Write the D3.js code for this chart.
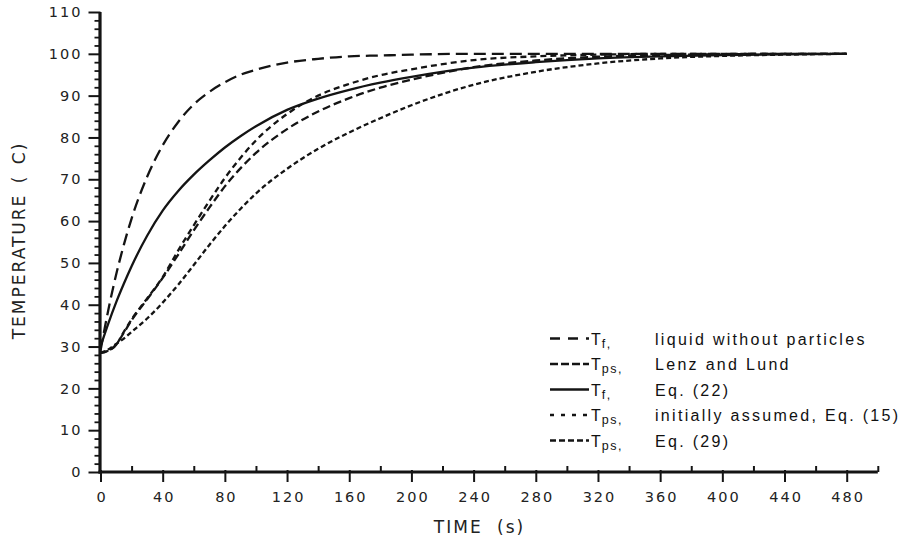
<!DOCTYPE html>
<html><head><meta charset="utf-8">
<script src="https://cdn.jsdelivr.net/npm/d3@7"></script>
<style>body{margin:0;background:#fff}</style>
</head><body>
<svg id="chart" width="907" height="541"></svg>
<script>
// ---- data ----
const times = [0,5,10,15,20,30,40,50,60,70,80,90,100,120,140,160,180,200,240,280,320,360,400,440,480];
const tfLiquid    = [29,38.7,47.1,54.3,60.6,70.6,78.1,83.7,87.9,90.9,93.2,95.0,96.2,97.9,98.8,99.4,99.6,99.8,100,100,100,100,100,100,100];
const tpsLenzLund = [28.5,29,30.4,33.3,36.3,41.3,46.4,52,57.8,63.2,68.3,72.6,76.3,82,86.2,89.4,91.9,93.8,96.8,98.4,99.3,99.7,99.9,100,100];
const tfEq22      = [30,35.5,40.5,45,49.2,56.5,62.5,67.2,71.1,74.5,77.6,80.3,82.7,86.6,89.3,91.4,93.1,94.5,96.7,98,98.9,99.4,99.7,99.9,100];
const tpsAssumed  = [28.5,29,30.4,33.5,36.5,41.5,46.6,53,59,64.8,70.3,75.1,79.3,85.6,90,92.8,94.9,96.3,98.5,99.4,99.8,100,100,100,100];
const tpsEq29     = [28.5,29.3,30.6,31.9,33.5,36.7,40.5,44.8,49.5,54.3,58.8,62.9,66.6,72.5,77.3,81.2,84.6,87.7,92.6,95.7,97.7,98.9,99.5,99.8,100];
const xTickValues = [0,40,80,120,160,200,240,280,320,360,400,440,480];
const yTickValues = [0,10,20,30,40,50,60,70,80,90,100,110];
const legendSubs  = ["f","ps","f","ps","ps"];
const legendTexts = ["liquid without particles","Lenz and Lund","Eq. (22)","initially assumed, Eq. (15)","Eq. (29)"];
const xTitle = "TIME (s)";
const yTitle = "TEMPERATURE ( C)";

// ---- styles ----
const series = [tfLiquid, tpsLenzLund, tfEq22, tpsAssumed, tpsEq29];
const curveDash  = ["12,6","8,4",null,"6,4","5,3"];
const legendDash = ["10,8","8,3",null,"4,7","6,3"];
const ink = "#141414";

const svg = d3.select("#chart");
svg.append("rect").attr("width",907).attr("height",541).attr("fill","#fff");

const x = d3.scaleLinear().domain([0,500]).range([100.5, 877.8]);
const y = d3.scaleLinear().domain([0,110]).range([472, 12]);

// curves
const line = d3.line().x((d,i)=>x(times[i])).y(d=>y(d)).curve(d3.curveMonotoneX);
series.forEach((s,k)=>{
  svg.append("path").datum(s).attr("d",line)
    .attr("fill","none").attr("stroke",ink).attr("stroke-width",2.3)
    .attr("stroke-dasharray",curveDash[k]);
});

// x axis
const gx = svg.append("g").attr("transform",`translate(0,${y(0)})`);
gx.call(d3.axisBottom(x).tickValues(xTickValues).tickSize(10).tickPadding(10).tickFormat(d3.format("d")));
gx.select(".domain").remove();
gx.selectAll(".tick line").attr("stroke",ink).attr("stroke-width",2).attr("y1",-2);
gx.selectAll(".tick text").attr("font-family","DejaVu Sans").attr("font-size",14.5)
  .attr("letter-spacing","2px").attr("dx",1).attr("fill","#222");
const gxm = svg.append("g").attr("transform",`translate(0,${y(0)})`);
gxm.call(d3.axisBottom(x).tickValues(d3.range(20,501,40)).tickSize(-6).tickFormat(""));
gxm.select(".domain").remove();
gxm.selectAll(".tick line").attr("stroke",ink).attr("stroke-width",2);

// y axis
const gy = svg.append("g").attr("transform",`translate(${x(0)},0)`);
gy.call(d3.axisLeft(y).tickValues(yTickValues).tickSize(12).tickPadding(6).tickFormat(d3.format("d")));
gy.select(".domain").remove();
gy.selectAll(".tick line").attr("stroke",ink).attr("stroke-width",2);
gy.selectAll(".tick text").attr("font-family","DejaVu Sans").attr("font-size",14.5)
  .attr("letter-spacing","2px").attr("fill","#222");
const gym = svg.append("g").attr("transform",`translate(${x(0)},0)`);
gym.call(d3.axisLeft(y).tickValues(d3.range(0,111,2).filter(v=>v%10!==0)).tickSize(6).tickFormat(""));
gym.select(".domain").remove();
gym.selectAll(".tick line").attr("stroke",ink).attr("stroke-width",1.8);

// axis lines
svg.append("line").attr("x1",x(0)-0.5).attr("x2",x(0)-0.5).attr("y1",y(110)).attr("y2",y(0)+1.5)
  .attr("stroke",ink).attr("stroke-width",3.2);
svg.append("line").attr("x1",x(0)-2).attr("x2",x(500)).attr("y1",y(0)).attr("y2",y(0))
  .attr("stroke",ink).attr("stroke-width",3.2);

// titles
svg.append("text").attr("x",479.5).attr("y",533).attr("text-anchor","middle")
  .attr("font-family","DejaVu Sans").attr("font-size",17).attr("letter-spacing","2px")
  .attr("word-spacing","7px").attr("fill","#222").text(xTitle);
svg.append("text").attr("transform","translate(25,240.5) rotate(-90)").attr("text-anchor","middle")
  .attr("font-family","DejaVu Sans").attr("font-size",17).attr("letter-spacing","2px")
  .attr("word-spacing","3px").attr("fill","#222").text(yTitle);

// legend
const rowY = d3.scaleLinear().domain([0,4]).range([338.5,440.5]);
legendTexts.forEach((t,i)=>{
  const yy = rowY(i);
  svg.append("line").attr("x1",550).attr("x2",589).attr("y1",yy).attr("y2",yy)
    .attr("stroke",ink).attr("stroke-width",2.3).attr("stroke-dasharray",legendDash[i]);
  const tx = svg.append("text").attr("x",591).attr("y",yy+6)
    .attr("font-family","Liberation Sans").attr("font-size",16).attr("fill","#111");
  tx.append("tspan").attr("letter-spacing","1px").text("T");
  tx.append("tspan").attr("font-size",12.5).attr("dy",3).attr("letter-spacing","1.5px").text(legendSubs[i]+",");
  svg.append("text").attr("x",655).attr("y",yy+6)
    .attr("font-family","Liberation Sans").attr("font-size",16).attr("letter-spacing","2.3px")
    .attr("fill","#111").text(t);
});
</script>
</body></html>
